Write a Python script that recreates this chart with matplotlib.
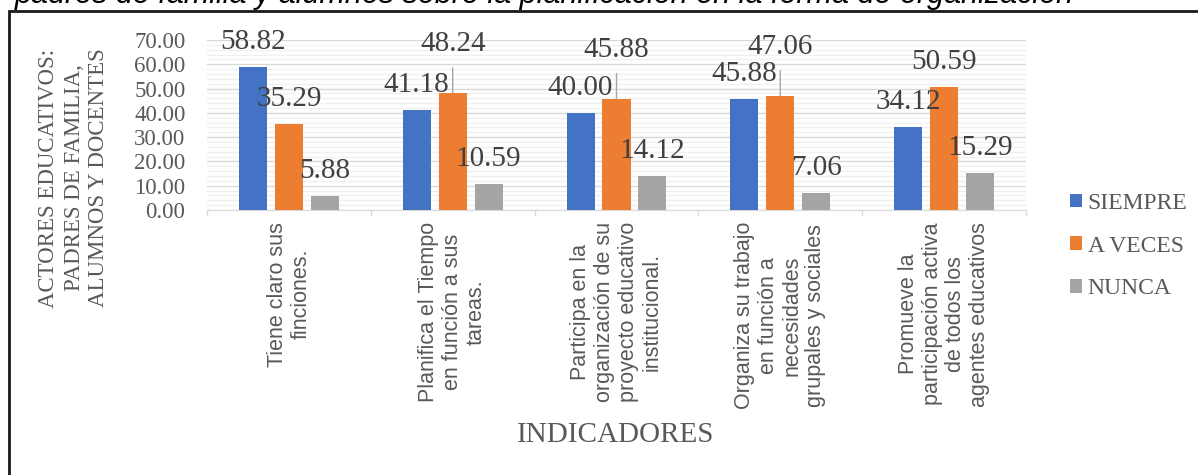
import numpy as np
import matplotlib
matplotlib.use('Agg')
import matplotlib.pyplot as plt
from matplotlib.patches import Rectangle

# data
indicadores = [
    'Tiene claro sus\nfinciones.',
    'Planifica el Tiempo\nen función a sus\ntareas.',
    'Participa en la\norganización de su\nproyecto educativo\ninstitucional.',
    'Organiza su trabajo\nen función a\nnecesidades\ngrupales y sociales',
    'Promueve la\nparticipación activa\nde todos los\nagentes educativos',
]
siempre = [58.82, 41.18, 40.00, 45.88, 34.12]
a_veces = [35.29, 48.24, 45.88, 47.06, 50.59]
nunca = [5.88, 10.59, 14.12, 7.06, 15.29]

series = [('SIEMPRE', siempre, '#4472C4'),
          ('A VECES', a_veces, '#ED7D31'),
          ('NUNCA', nunca, '#A5A5A5')]

# labels that Excel moved up with a leader line (series index, category index)
moved = [(1, 1), (1, 2), (1, 3)]

serif = 'Liberation Serif'
sans = 'Liberation Sans'
gris = '#595959'

fig = plt.figure(figsize=(11.98, 4.75), dpi=100)
ax = fig.add_axes([207/1198, 1 - 210/475, (1026 - 207)/1198, (210 - 40)/475])

x = np.arange(len(indicadores))
ancho = 0.171
paso = 0.2195

for i, (nombre, vals, color) in enumerate(series):
    pos = x + (i - 1) * paso
    barras = ax.bar(pos, vals, ancho, color=color, label=nombre, zorder=3)
    for j, (b, v) in enumerate(zip(barras, vals)):
        cx = b.get_x() + b.get_width() / 2
        lift = 42 if (i, j) in moved else 18
        ax.annotate('%.2f' % v, (cx, v), xytext=(0, lift), textcoords='offset pixels',
                    ha='center', va='baseline', fontsize=21, family=serif,
                    color='#404040', zorder=5)
        if (i, j) in moved:
            ax.annotate('', (cx, v), xytext=(0, 42 - 17), textcoords='offset pixels',
                        arrowprops=dict(arrowstyle='-', color='#A6A6A6', lw=1,
                                        shrinkA=0, shrinkB=0), zorder=4)

ax.set_xlim(-0.5, len(indicadores) - 0.5)
ax.set_ylim(0, 70)
ax.set_yticks(np.arange(0, 71, 10))
ax.set_yticks(np.arange(0, 71, 2), minor=True)
ax.set_yticklabels(['%.2f' % t for t in np.arange(0, 71, 10)], family=serif,
                   fontsize=16.5, color=gris)
ax.tick_params(axis='y', which='both', length=0, pad=15.5)
ax.grid(axis='y', which='major', color='#D9D9D9', lw=1, zorder=0)
ax.grid(axis='y', which='minor', color='#F0F0F0', lw=1, zorder=0)

ax.set_xticks(x)
ax.set_xticklabels(indicadores, rotation=90, ha='center', va='top',
                   multialignment='center', family=sans, fontsize=15.5,
                   color=gris, linespacing=1.17)
ax.set_xticks(np.arange(-0.5, len(indicadores), 1), minor=True)
ax.tick_params(axis='x', which='major', length=0, pad=8.5)
ax.tick_params(axis='x', which='minor', length=4, color='#D9D9D9', width=1)

for s in ['top', 'right', 'left']:
    ax.spines[s].set_visible(False)
ax.spines['bottom'].set_color('#D9D9D9')

fig.text(74/1198, 1 - 178/475,
         'ACTORES EDUCATIVOS:\nPADRES DE FAMILIA,\nALUMNOS Y DOCENTES',
         rotation=90, ha='center', va='center', multialignment='center',
         family=serif, fontsize=16.5, color=gris, linespacing=1.25)

fig.text(616/1198, 1 - 435/475, 'INDICADORES', ha='center', va='center',
         family=serif, fontsize=21, color=gris)

leg = ax.legend(loc='center left', bbox_to_anchor=(1058/1198, 1 - 246/475),
                bbox_transform=fig.transFigure, frameon=False, borderpad=0,
                prop={'family': serif, 'size': 17}, handlelength=0.5,
                handleheight=0.5, handletextpad=0.25, labelspacing=0.92)
for t in leg.get_texts():
    t.set_color(gris)

# caption cut off at the top of the picture
fig.text(0.012, 1 - 3/475,
         'padres de familia y alumnos sobre la planificación en la forma de organización',
         ha='left', va='baseline', family=sans, fontsize=22, style='italic',
         color='black')

fig.patches.append(Rectangle((9/1198, -0.1), 1.2, 1 - 11/475 + 0.1,
                             transform=fig.transFigure, fill=False,
                             edgecolor='#1a1a1a', lw=2))

plt.savefig('out.png', dpi=100)
